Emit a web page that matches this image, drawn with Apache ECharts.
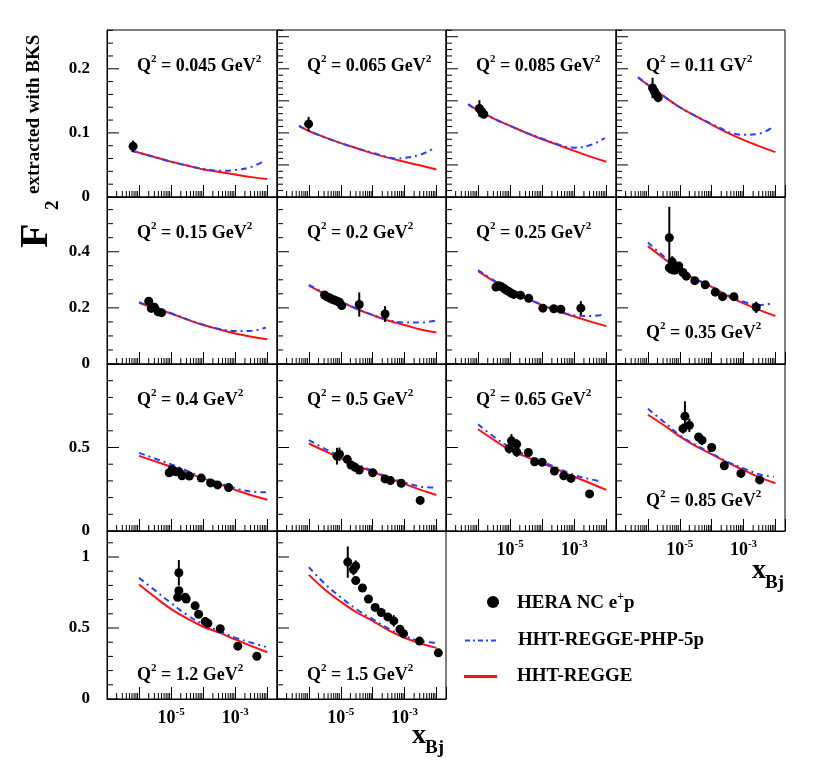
<!DOCTYPE html>
<html><head><meta charset="utf-8">
<script src="https://cdn.jsdelivr.net/npm/echarts@6/dist/echarts.min.js"></script>
<style>html,body{margin:0;padding:0;background:#fff}#c{width:828px;height:784px}</style>
</head><body><div id="c"></div><script>
// ---------- data ----------
const Q2_LABELS = ['0.045','0.065','0.085','0.11','0.15','0.2','0.25','0.35','0.4','0.5','0.65','0.85','1.2','1.5'];
const Q2_UNITS  = ['GeV','GeV','GeV','GV','GeV','GeV','GeV','GeV','GeV','GeV','GeV','GeV','GeV','GeV'];
const X_TICK_LABELS = [-5, -3];

// HERA points: [x, F2, error]
const HERA_045 = [[6.5e-7,0.079,0.009]];
const HERA_065 = [[9.8e-7,0.114,0.011]];
const HERA_085 = [[1.1e-6,0.138,0.013],[1.3e-6,0.133,0.007],[1.5e-6,0.129,0.006]];
const HERA_011 = [[1.4e-6,0.170,0.016],[1.6e-6,0.165,0.010],[1.8e-6,0.160,0.008],[2.1e-6,0.155,0.007]];
const HERA_015 = [[2e-6,0.224,0.012],[2.4e-6,0.198,0.006],[3e-6,0.202,0.006],[3.9e-6,0.186,0.005],[5e-6,0.183,0.005]];
const HERA_020 = [[3.1e-6,0.246,0.005],[3.6e-6,0.240,0.005],[4.4e-6,0.236,0.005],[5.2e-6,0.231,0.005],[6.3e-6,0.228,0.005],[7.6e-6,0.224,0.005],[9.1e-6,0.220,0.005],[1.07e-5,0.208,0.006],[3.8e-5,0.212,0.043],[2.45e-4,0.178,0.028]];
const HERA_025 = [[3.6e-6,0.274,0.005],[4.4e-6,0.279,0.005],[5.4e-6,0.275,0.005],[6.5e-6,0.269,0.005],[7.6e-6,0.263,0.005],[9.1e-6,0.258,0.005],[1.1e-5,0.252,0.005],[1.3e-5,0.248,0.005],[2.1e-5,0.245,0.005],[3.8e-5,0.234,0.005],[1.05e-4,0.199,0.006],[2.3e-4,0.197,0.006],[3.8e-4,0.195,0.006],[1.6e-3,0.199,0.025]];
const HERA_035 = [[4.7e-6,0.450,0.110],[4.7e-6,0.343,0.020],[5.8e-6,0.364,0.020],[6.3e-6,0.335,0.008],[7.2e-6,0.335,0.008],[9.3e-6,0.349,0.008],[1.26e-5,0.326,0.008],[1.6e-5,0.313,0.008],[2.95e-5,0.297,0.008],[6.3e-5,0.282,0.008],[1.3e-4,0.256,0.008],[2.2e-4,0.240,0.008],[5e-4,0.240,0.008],[2.5e-3,0.202,0.020]];
const HERA_040 = [[8.7e-6,0.349,0.01],[1.07e-5,0.369,0.01],[1.38e-5,0.355,0.01],[1.74e-5,0.355,0.01],[2.2e-5,0.331,0.01],[3.7e-5,0.329,0.01],[8.7e-5,0.317,0.01],[1.7e-4,0.288,0.01],[2.8e-4,0.276,0.01],[6.2e-4,0.260,0.01]];
const HERA_050 = [[7.6e-6,0.448,0.05],[9.1e-6,0.460,0.04],[1.6e-5,0.429,0.01],[2.1e-5,0.395,0.01],[2.8e-5,0.381,0.01],[3.8e-5,0.365,0.01],[1e-4,0.349,0.01],[2.45e-4,0.312,0.01],[3.6e-4,0.302,0.01],[7.9e-4,0.286,0.01],[3.1e-3,0.183,0.02]];
const HERA_065B = [[9.3e-6,0.494,0.03],[1.1e-5,0.540,0.04],[1.6e-5,0.520,0.03],[1.6e-5,0.474,0.03],[3.7e-5,0.470,0.01],[5.8e-5,0.415,0.01],[1e-4,0.411,0.01],[2.4e-4,0.359,0.01],[4.7e-4,0.331,0.01],[7.9e-4,0.315,0.01],[3e-3,0.222,0.01]];
const HERA_085B = [[1.26e-5,0.613,0.03],[1.45e-5,0.687,0.09],[2.0e-5,0.633,0.04],[3.9e-5,0.563,0.02],[5e-5,0.544,0.03],[1e-4,0.500,0.025],[2.5e-4,0.391,0.025],[8.3e-4,0.345,0.01],[3.2e-3,0.306,0.01]];
const HERA_12 = [[1.6e-5,0.716,0.02],[1.74e-5,0.889,0.09],[1.74e-5,0.763,0.02],[2.75e-5,0.716,0.01],[2.95e-5,0.704,0.01],[5.6e-5,0.656,0.01],[7.2e-5,0.597,0.01],[1.15e-4,0.545,0.01],[1.4e-4,0.533,0.01],[3.4e-4,0.495,0.01],[1.2e-3,0.372,0.01],[4.7e-3,0.301,0.01]];
const HERA_15 = [[1.66e-5,0.964,0.11],[2.5e-5,0.912,0.04],[2.95e-5,0.936,0.04],[2.95e-5,0.834,0.01],[4.8e-5,0.782,0.01],[7.4e-5,0.704,0.01],[1.2e-4,0.645,0.01],[1.86e-4,0.609,0.01],[3e-4,0.578,0.01],[4.6e-4,0.550,0.04],[7.2e-4,0.491,0.01],[9.3e-4,0.460,0.01],[2.95e-3,0.408,0.01],[1.15e-2,0.325,0.01]];

// HHT-REGGE (red) curves: [x, F2]
const REGGE_045 = [[5.8e-7,0.072],[1e-6,0.069],[3.2e-6,0.062],[1e-5,0.055],[3.2e-5,0.049],[1e-4,0.043],[3.2e-4,0.039],[1e-3,0.035],[3.2e-3,0.031],[1e-2,0.028]];
const REGGE_065 = [[4.9e-7,0.111],[1e-6,0.103],[3.2e-6,0.093],[1e-5,0.084],[3.2e-5,0.076],[1e-4,0.068],[3.2e-4,0.061],[1e-3,0.055],[3.2e-3,0.049],[1e-2,0.043]];
const REGGE_085 = [[4.9e-7,0.144],[1e-6,0.135],[3.2e-6,0.122],[1e-5,0.111],[3.2e-5,0.100],[1e-4,0.090],[3.2e-4,0.081],[1e-3,0.072],[3.2e-3,0.063],[1e-2,0.055]];
const REGGE_011 = [[4.9e-7,0.186],[1e-6,0.175],[3.2e-6,0.157],[1e-5,0.140],[3.2e-5,0.126],[1e-4,0.113],[3.2e-4,0.100],[1e-3,0.089],[3.2e-3,0.079],[1e-2,0.070]];
const REGGE_015 = [[1e-6,0.218],[3.2e-6,0.198],[1e-5,0.180],[3.2e-5,0.158],[1e-4,0.139],[3.2e-4,0.123],[1e-3,0.109],[3.2e-3,0.097],[1e-2,0.088]];
const REGGE_020 = [[1e-6,0.279],[3.2e-6,0.249],[1e-5,0.222],[3.2e-5,0.196],[1e-4,0.174],[3.2e-4,0.154],[1e-3,0.139],[3.2e-3,0.123],[1e-2,0.112]];
const REGGE_025 = [[1e-6,0.331],[3.2e-6,0.294],[1e-5,0.261],[3.2e-5,0.234],[1e-4,0.210],[3.2e-4,0.188],[1e-3,0.169],[3.2e-3,0.151],[1e-2,0.135]];
const REGGE_035 = [[1e-6,0.420],[3.2e-6,0.376],[1e-5,0.335],[3.2e-5,0.301],[1e-4,0.275],[3.2e-4,0.242],[1e-3,0.216],[3.2e-3,0.192],[1e-2,0.171]];
const REGGE_040 = [[1e-6,0.450],[3.2e-6,0.417],[1e-5,0.385],[3.2e-5,0.349],[1e-4,0.315],[3.2e-4,0.280],[1e-3,0.246],[3.2e-3,0.214],[1e-2,0.187]];
const REGGE_050 = [[1e-6,0.524],[3.2e-6,0.478],[1e-5,0.435],[3.2e-5,0.391],[1e-4,0.355],[3.2e-4,0.315],[1e-3,0.282],[3.2e-3,0.246],[1e-2,0.216]];
const REGGE_065B = [[1e-6,0.609],[3.2e-6,0.544],[1e-5,0.484],[3.2e-5,0.444],[1e-4,0.405],[3.2e-4,0.365],[1e-3,0.325],[3.2e-3,0.286],[1e-2,0.246]];
const REGGE_085B = [[1e-6,0.696],[3.2e-6,0.633],[1e-5,0.567],[3.2e-5,0.508],[1e-4,0.460],[3.2e-4,0.409],[1e-3,0.365],[3.2e-3,0.321],[1e-2,0.286]];
const REGGE_12 = [[1e-6,0.806],[3.2e-6,0.716],[1e-5,0.633],[3.2e-5,0.566],[1e-4,0.509],[3.2e-4,0.467],[1e-3,0.419],[3.2e-3,0.372],[1e-2,0.329]];
const REGGE_15 = [[1e-6,0.874],[3.2e-6,0.770],[1e-5,0.685],[3.2e-5,0.609],[1e-4,0.550],[3.2e-4,0.483],[1e-3,0.431],[3.2e-3,0.391],[1e-2,0.360]];

// HHT-REGGE-PHP-5p (blue) curves: [x, F2]
const PHP_045 = [[5.8e-7,0.072],[1e-6,0.069],[3.2e-6,0.062],[1e-5,0.055],[3.2e-5,0.049],[1e-4,0.044],[3.2e-4,0.041],[1e-3,0.042],[3.2e-3,0.047],[7e-3,0.055]];
const PHP_065 = [[4.9e-7,0.111],[1e-6,0.103],[3.2e-6,0.093],[1e-5,0.084],[3.2e-5,0.076],[1e-4,0.069],[3.2e-4,0.062],[6e-4,0.060],[1e-3,0.061],[3.2e-3,0.066],[9e-3,0.077]];
const PHP_085 = [[4.9e-7,0.145],[1e-6,0.135],[3.2e-6,0.122],[1e-5,0.111],[3.2e-5,0.100],[1e-4,0.091],[3.2e-4,0.082],[6e-4,0.078],[1e-3,0.077],[3.2e-3,0.081],[9e-3,0.092]];
const PHP_011 = [[4.9e-7,0.187],[1e-6,0.175],[3.2e-6,0.157],[1e-5,0.140],[3.2e-5,0.126],[1e-4,0.114],[3.2e-4,0.102],[6e-4,0.098],[1e-3,0.097],[3.2e-3,0.099],[9e-3,0.110]];
const PHP_015 = [[1e-6,0.220],[3.2e-6,0.199],[1e-5,0.181],[3.2e-5,0.159],[1e-4,0.140],[3.2e-4,0.125],[1e-3,0.118],[3.2e-3,0.118],[9e-3,0.130]];
const PHP_020 = [[1e-6,0.282],[3.2e-6,0.251],[1e-5,0.223],[3.2e-5,0.197],[1e-4,0.175],[3.2e-4,0.156],[1e-3,0.148],[3.2e-3,0.148],[9e-3,0.154]];
const PHP_025 = [[1e-6,0.335],[3.2e-6,0.297],[1e-5,0.263],[3.2e-5,0.235],[1e-4,0.211],[3.2e-4,0.190],[1e-3,0.173],[3.2e-3,0.171],[9e-3,0.177]];
const PHP_035 = [[1e-6,0.433],[3.2e-6,0.383],[1e-5,0.340],[3.2e-5,0.303],[1e-4,0.277],[3.2e-4,0.245],[1e-3,0.222],[3.2e-3,0.210],[9e-3,0.218]];
const PHP_040 = [[1e-6,0.468],[3.2e-6,0.433],[1e-5,0.399],[3.2e-5,0.360],[1e-4,0.321],[3.2e-4,0.288],[1e-3,0.256],[3.2e-3,0.236],[9e-3,0.232]];
const PHP_050 = [[1e-6,0.544],[3.2e-6,0.492],[1e-5,0.444],[3.2e-5,0.400],[1e-4,0.361],[3.2e-4,0.322],[1e-3,0.290],[3.2e-3,0.266],[9e-3,0.260]];
const PHP_065B = [[1e-6,0.639],[3.2e-6,0.563],[1e-5,0.500],[3.2e-5,0.455],[1e-4,0.415],[3.2e-4,0.375],[1e-3,0.335],[3.2e-3,0.310],[7e-3,0.296]];
const PHP_085B = [[1e-6,0.732],[3.2e-6,0.653],[1e-5,0.573],[3.2e-5,0.515],[1e-4,0.464],[3.2e-4,0.414],[1e-3,0.375],[3.2e-3,0.339],[9e-3,0.325]];
const PHP_12 = [[1e-6,0.853],[3.2e-6,0.763],[1e-5,0.675],[3.2e-5,0.590],[1e-4,0.526],[3.2e-4,0.478],[1e-3,0.431],[3.2e-3,0.396],[9e-3,0.367]];
const PHP_15 = [[1e-6,0.929],[3.2e-6,0.810],[1e-5,0.716],[3.2e-5,0.630],[1e-4,0.562],[3.2e-4,0.495],[1e-3,0.443],[3.2e-3,0.408],[9e-3,0.396]];

const HERA = [HERA_045,HERA_065,HERA_085,HERA_011,HERA_015,HERA_020,HERA_025,HERA_035,HERA_040,HERA_050,HERA_065B,HERA_085B,HERA_12,HERA_15];
const REGGE = [REGGE_045,REGGE_065,REGGE_085,REGGE_011,REGGE_015,REGGE_020,REGGE_025,REGGE_035,REGGE_040,REGGE_050,REGGE_065B,REGGE_085B,REGGE_12,REGGE_15];
const PHP = [PHP_045,PHP_065,PHP_085,PHP_011,PHP_015,PHP_020,PHP_025,PHP_035,PHP_040,PHP_050,PHP_065B,PHP_085B,PHP_12,PHP_15];

// ---------- layout / style ----------
const FONT = 'Liberation Serif';
const RED = '#ff1010', BLUE = '#2a40ff';
const COL_L = [107, 277, 446, 616], COL_W = [170, 169, 170, 169];
const ROW_T = [30, 197, 364, 531], ROW_H = [167, 167, 167, 168];
const ROW_MAX = [0.2605, 0.595, 1.0, 1.183];
const ROW_MAJOR = [0.1, 0.2, 0.5, 0.5];
const ROW_MINOR = [0.02, 0.05, 0.1, 0.1];
const LABEL_BOTTOM_OFFSET = { 7: 43, 11: 42, 12: 36, 13: 36 };
const XLABEL_PANELS = [10, 11, 12, 13];
const N_NAME = 'HERA NC e+p', PHP_NAME = 'HHT-REGGE-PHP-5p', REG_NAME = 'HHT-REGGE';

// minor decade tick positions (2..9 x 10^n) for the log axis
const X_MINOR = [];
for (let e = -7; e <= -2; e++) for (let m = 2; m <= 9; m++) { const v = m * Math.pow(10, e); if (v < 0.02) X_MINOR.push([v, 0]); }

const grid = [], xAxis = [], yAxis = [], series = [], graphic = [];
for (let i = 0; i < 14; i++) {
  const r = Math.floor(i / 4), c = i % 4;
  grid.push({ left: COL_L[c], top: ROW_T[r], width: COL_W[c], height: ROW_H[r], show: true, borderColor: '#000', borderWidth: 1, backgroundColor: 'transparent', containLabel: false });
  const showX = XLABEL_PANELS.includes(i);
  xAxis.push({
    type: 'log', logBase: 10, min: 1e-7, max: 0.02, gridIndex: i,
    axisLine: { show: true, lineStyle: { color: '#000', width: 1 } },
    axisTick: { show: true, inside: true, length: 12, lineStyle: { color: '#000', width: 1 } },
    splitLine: { show: false }, minorTick: { show: false },
    axisLabel: {
      show: showX, margin: 8,
      formatter: (v) => { const l = Math.log10(v), e = Math.round(l); return (Math.abs(l - e) < 1e-6 && X_TICK_LABELS.includes(e)) ? '{b|10}{s|' + e + '}' : ''; },
      rich: { b: { fontFamily: FONT, fontWeight: 'bold', fontSize: 18, color: '#000', lineHeight: 20, verticalAlign: 'bottom' },
              s: { fontFamily: FONT, fontWeight: 'bold', fontSize: 11, color: '#000', lineHeight: 12, verticalAlign: 'top' } }
    }
  });
  const major = (r === 0 && c > 0) ? 0.05 : ROW_MAJOR[r];
  const minor = (r === 0 && c > 0) ? 0.01 : ROW_MINOR[r];
  const max = ROW_MAX[r];
  yAxis.push({
    type: 'value', min: 0, max: max, interval: ROW_MAJOR[r], gridIndex: i, position: 'left',
    axisLine: { show: true, lineStyle: { color: '#000', width: 1 } },
    axisTick: { show: false },
    splitLine: { show: false },
    axisLabel: { show: c === 0, margin: 17, fontFamily: FONT, fontWeight: 'bold', fontSize: 17, color: '#000',
      formatter: (v) => { if (v >= max - 1e-9) return ''; const k = v / ROW_MAJOR[r]; return Math.abs(k - Math.round(k)) < 1e-6 ? String(+v.toFixed(2)) : ''; } }
  });
  // y tick marks (major long, minor short), drawn through the axes' scales
  const yTicks = [];
  for (let k = 0; k * minor <= max + 1e-9; k++) { const v = +(k * minor).toFixed(4); const q = v / major; yTicks.push([1e-7, v, Math.abs(q - Math.round(q)) < 1e-6 ? 12 : 6]); }
  series.push({
    type: 'custom', xAxisIndex: i, yAxisIndex: i, silent: true, data: yTicks, z: 1, clip: false,
    renderItem: (params, api) => { const p = api.coord([api.value(0), api.value(1)]); return { type: 'line', shape: { x1: p[0], y1: p[1], x2: p[0] + api.value(2), y2: p[1] }, style: { stroke: '#000', lineWidth: 1 } }; }
  });
  // minor log ticks
  series.push({
    type: 'custom', xAxisIndex: i, yAxisIndex: i, silent: true, data: X_MINOR, z: 1, clip: false,
    renderItem: (params, api) => { const p = api.coord([api.value(0), 0]); return { type: 'line', shape: { x1: p[0], y1: p[1], x2: p[0], y2: p[1] - 6 }, style: { stroke: '#000', lineWidth: 1 } }; }
  });
  series.push({ name: REG_NAME, type: 'line', xAxisIndex: i, yAxisIndex: i, data: REGGE[i], smooth: 0.4, symbol: 'none', lineStyle: { color: RED, width: 2 }, itemStyle: { color: RED }, z: 2 });
  series.push({ name: PHP_NAME, type: 'line', xAxisIndex: i, yAxisIndex: i, data: PHP[i], smooth: 0.4, symbol: 'none', lineStyle: { color: BLUE, width: 2, type: [6, 4, 2, 4] }, itemStyle: { color: BLUE }, z: 3 });
  series.push({
    name: 'errors', type: 'custom', xAxisIndex: i, yAxisIndex: i, data: HERA[i], z: 4, silent: true,
    renderItem: (params, api) => { const x = api.value(0), y = api.value(1), e = api.value(2); const a = api.coord([x, y - e]), b = api.coord([x, y + e]); return { type: 'line', shape: { x1: a[0], y1: a[1], x2: b[0], y2: b[1] }, style: { stroke: '#000', lineWidth: 2 } }; }
  });
  series.push({ name: N_NAME, type: 'scatter', xAxisIndex: i, yAxisIndex: i, data: HERA[i].map(p => [p[0], p[1]]), symbol: 'circle', symbolSize: 9, itemStyle: { color: '#000', opacity: 1 }, z: 5 });

  const off = LABEL_BOTTOM_OFFSET[i];
  graphic.push({
    type: 'text', left: COL_L[c] + 30, top: off ? ROW_T[r] + ROW_H[r] - off : ROW_T[r] + 24,
    style: { text: '{a|Q}{s|2}{a| = ' + Q2_LABELS[i] + ' ' + Q2_UNITS[i] + '}{s|2}',
      rich: { a: { fontFamily: FONT, fontWeight: 'bold', fontSize: 18, fill: '#000', lineHeight: 21, verticalAlign: 'bottom' },
              s: { fontFamily: FONT, fontWeight: 'bold', fontSize: 11, fill: '#000', lineHeight: 12, verticalAlign: 'top' } } }
  });
}
// axis titles: x_Bj
const xTitle = (xl, yc) => [
  { type: 'text', x: xl, y: yc - 3, style: { text: 'x', font: 'bold 28px ' + FONT, fill: '#000', align: 'left', verticalAlign: 'middle' } },
  { type: 'text', x: xl + 13, y: yc + 9, style: { text: 'Bj', font: 'bold 19px ' + FONT, fill: '#000', align: 'left', verticalAlign: 'middle' } }
];
graphic.push(...xTitle(412, 739));
graphic.push(...xTitle(752, 574));
// y title: F_2^{extracted with BKS}
graphic.push({ type: 'text', x: 57, y: 248, rotation: Math.PI / 2, style: { text: 'F', font: 'bold 40px ' + FONT, fill: '#000', align: 'left', verticalAlign: 'bottom' } });
graphic.push({ type: 'text', x: 63, y: 210, rotation: Math.PI / 2, style: { text: '2', font: 'bold 19px ' + FONT, fill: '#000', align: 'left', verticalAlign: 'bottom' } });
graphic.push({ type: 'text', x: 44, y: 194, rotation: Math.PI / 2, style: { text: 'extracted with BKS', font: 'bold 19px ' + FONT, fill: '#000', align: 'left', verticalAlign: 'bottom' } });

const legTxt = { fontFamily: FONT, fontWeight: 'bold', fontSize: 19, color: '#000' };
const legend = [
  { data: [{ name: N_NAME, icon: 'circle' }], left: 482, top: 586, itemWidth: 12, itemHeight: 12, selectedMode: false,
    formatter: () => '{a|HERA NC e}{s|+}{a|p}',
    textStyle: { padding: [0, 0, 0, 13], rich: { a: Object.assign({ lineHeight: 22, verticalAlign: 'bottom' }, legTxt), s: { fontFamily: FONT, fontWeight: 'bold', fontSize: 12, color: '#000', lineHeight: 12, verticalAlign: 'top' } } } },
  { data: [{ name: PHP_NAME, icon: 'path://M0,0H5V2H0Z M8,0H10V2H8Z M13,0H18V2H13Z M21,0H23V2H21Z M26,0H31V2H26Z' }], left: 460, top: 626, itemWidth: 31, itemHeight: 2, selectedMode: false,
    textStyle: Object.assign({ padding: [0, 0, 0, 17] }, legTxt) },
  { data: [{ name: REG_NAME, icon: 'rect' }], left: 459, top: 662, itemWidth: 33, itemHeight: 3, selectedMode: false,
    textStyle: Object.assign({ padding: [0, 0, 0, 15] }, legTxt) }
];

const chart = echarts.init(document.getElementById('c'), null, { renderer: 'canvas' });
chart.setOption({ animation: false, backgroundColor: '#fff', grid, xAxis, yAxis, series, legend, graphic });
</script></body></html>
